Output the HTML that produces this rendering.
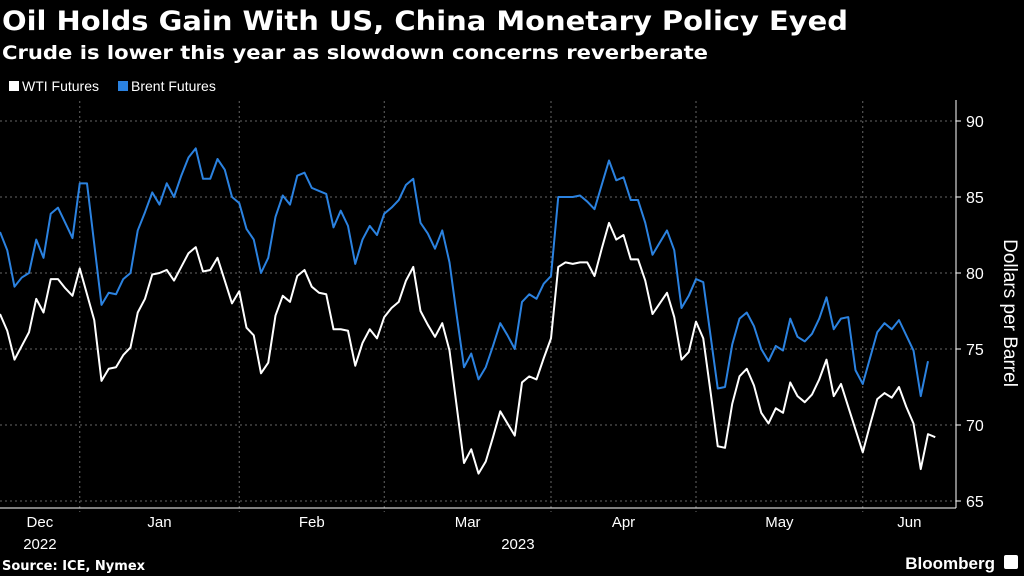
<!DOCTYPE html>
<html><head><meta charset="utf-8"><style>
html,body{margin:0;padding:0;background:#000;}
svg{display:block;}
</style></head><body>
<svg id="chart" width="1024" height="576" viewBox="0 0 1024 576" xmlns="http://www.w3.org/2000/svg">
<rect width="1024" height="576" fill="#000"/>
<text x="2" y="30" fill="#fff" font-family="DejaVu Sans, Liberation Sans, sans-serif" font-weight="bold" font-size="27" textLength="846" lengthAdjust="spacingAndGlyphs">Oil Holds Gain With US, China Monetary Policy Eyed</text>
<text x="2" y="59" fill="#fff" font-family="DejaVu Sans, Liberation Sans, sans-serif" font-weight="bold" font-size="19" textLength="706" lengthAdjust="spacingAndGlyphs">Crude is lower this year as slowdown concerns reverberate</text>
<g>
<rect x="9" y="81" width="10" height="10" fill="#fff"/>
<text x="22" y="91" fill="#fff" font-family="Liberation Sans, sans-serif" font-size="14">WTI Futures</text>
<rect x="118" y="81" width="10" height="10" fill="#2b82e0"/>
<text x="131" y="91" fill="#fff" font-family="Liberation Sans, sans-serif" font-size="14">Brent Futures</text>
</g>
<g id="grid"></g>
<g id="axes"></g>
<g id="series"></g>
<text transform="translate(1004,313) rotate(90)" text-anchor="middle" fill="#fff" font-family="Liberation Sans, sans-serif" font-size="19">Dollars per Barrel</text>
<text x="2" y="570" fill="#fff" font-family="DejaVu Sans, Liberation Sans, sans-serif" font-weight="bold" font-size="13">Source: ICE, Nymex</text>
<text x="995" y="569" text-anchor="end" fill="#fff" font-family="Liberation Sans, sans-serif" font-weight="bold" font-size="17">Bloomberg</text>
<rect x="1004" y="555" width="14" height="14" rx="2" fill="#fff"/>
</svg>
<script>
const wti = [77.3,76.2,74.3,75.2,76.1,78.3,77.4,79.6,79.6,79.0,78.5,80.3,78.6,76.9,72.9,73.7,73.8,74.6,75.1,77.4,78.3,79.9,80.0,80.2,79.5,80.4,81.3,81.7,80.1,80.2,81.0,79.5,78.0,78.8,76.4,75.9,73.4,74.1,77.2,78.5,78.1,79.8,80.2,79.1,78.7,78.6,76.3,76.3,76.2,73.9,75.4,76.3,75.7,77.1,77.7,78.1,79.5,80.4,77.5,76.6,75.8,76.7,74.9,71.2,67.5,68.4,66.8,67.6,69.2,70.9,70.1,69.3,72.8,73.2,73.0,74.4,75.7,80.4,80.7,80.6,80.7,80.7,79.8,81.6,83.3,82.2,82.5,80.9,80.9,79.5,77.3,78.0,78.7,77.1,74.3,74.8,76.8,75.7,72.2,68.6,68.5,71.4,73.2,73.7,72.6,70.8,70.1,71.1,70.8,72.8,71.9,71.5,72.0,73.0,74.3,71.9,72.7,71.2,69.7,68.2,70.0,71.7,72.1,71.8,72.5,71.2,70.1,67.1,69.4,69.2];
const brent = [82.7,81.5,79.1,79.7,80.0,82.2,81.0,83.9,84.3,83.3,82.3,85.9,85.9,81.9,77.9,78.7,78.6,79.6,80.0,82.8,84.0,85.3,84.5,85.9,85.0,86.4,87.6,88.2,86.2,86.2,87.5,86.8,85.0,84.6,82.9,82.2,80.0,81.0,83.7,85.1,84.5,86.4,86.6,85.6,85.4,85.2,83.0,84.1,83.1,80.6,82.2,83.1,82.5,83.9,84.3,84.8,85.8,86.2,83.3,82.6,81.6,82.8,80.7,77.2,73.8,74.7,73.0,73.8,75.2,76.7,75.9,75.0,78.1,78.6,78.3,79.3,79.8,85.0,85.0,85.0,85.1,84.7,84.2,85.8,87.4,86.1,86.3,84.8,84.8,83.3,81.2,82.0,82.8,81.5,77.7,78.5,79.6,79.4,75.9,72.4,72.5,75.3,77.0,77.4,76.5,75.0,74.2,75.2,74.9,77.0,75.8,75.5,76.0,77.0,78.4,76.3,77.0,77.1,73.6,72.7,74.4,76.1,76.7,76.3,76.9,75.9,74.9,71.9,74.2];
const yTicks = [65,70,75,80,85,90];
const monthStarts = [11,33,53,76,96,119];
const monthLabels = ["Dec","Jan","Feb","Mar","Apr","May","Jun"];
const yearLabels = ["2022","2023"];

const NS="http://www.w3.org/2000/svg";
const L=0,R=956,T=121,B=501,AX=508,STEP=7.25;
const xs=i=>L+i*STEP;
const ys=v=>B-(v-65)*(B-T)/25;
function mk(tag,attrs,parent){const e=document.createElementNS(NS,tag);for(const k in attrs)e.setAttribute(k,attrs[k]);parent.appendChild(e);return e;}
const grid=document.getElementById('grid'),axes=document.getElementById('axes'),ser=document.getElementById('series');
yTicks.forEach(v=>{
  const g=mk('line',{x1:L,x2:R,y1:ys(v),y2:ys(v),stroke:'#666','stroke-dasharray':'2,3','stroke-width':1},grid);
  
  
  const t=mk('line',{x1:R,x2:R+5,y1:ys(v),y2:ys(v),stroke:'#fff','stroke-width':1},axes);
  
  
  const lb=mk('text',{x:R+10,y:ys(v)+6,fill:'#fff','font-family':'Liberation Sans, sans-serif','font-size':'16'},axes);
  lb.textContent=v;
  
  
});
monthStarts.forEach((m,k)=>{
  const g=mk('line',{x1:xs(m),x2:xs(m),y1:T-20,y2:AX+4,stroke:'#666','stroke-dasharray':'2,3','stroke-width':1},grid);
  
  
});
const bounds=[L].concat(monthStarts.map(xs)).concat([R]);
monthLabels.forEach((lab,k)=>{
  const t=mk('text',{x:(bounds[k]+bounds[k+1])/2,y:527,fill:'#fff','text-anchor':'middle','font-family':'Liberation Sans, sans-serif','font-size':'15'},axes);
  t.textContent=lab;
  
  
});
const yb=[[L,bounds[1]],[bounds[1],R]];
yearLabels.forEach((y,k)=>{
  const t=mk('text',{x:(yb[k][0]+yb[k][1])/2,y:549,fill:'#fff','text-anchor':'middle','font-family':'Liberation Sans, sans-serif','font-size':'15'},axes);
  t.textContent=y;
  
  
});
const ax1=mk('line',{x1:L,x2:R,y1:AX,y2:AX,stroke:'#fff','stroke-width':1},axes);


const ax2=mk('line',{x1:R,x2:R,y1:100,y2:AX,stroke:'#fff','stroke-width':1},axes);


function line(arr,color,name){
  const p=mk('polyline',{points:arr.map((v,i)=>xs(i)+','+ys(v)).join(' '),fill:'none',stroke:color,'stroke-width':2,'stroke-linejoin':'round'},ser);
  
  
}
line(brent,'#2b82e0','brent-line');
line(wti,'#ffffff','wti-line');
</script>
</body></html>
